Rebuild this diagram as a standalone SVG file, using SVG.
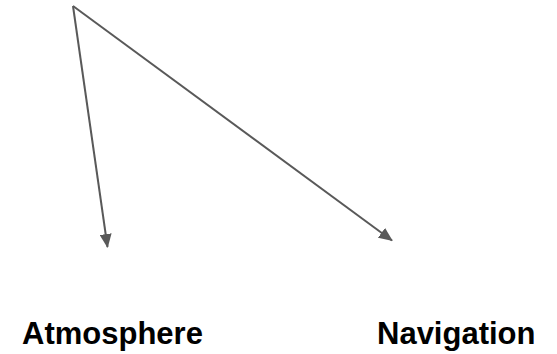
<svg xmlns="http://www.w3.org/2000/svg" width="557" height="354" viewBox="0 0 557 354">
<style>
.edge{stroke:#595959;stroke-width:2;fill:none}
.lbl{font-family:"Liberation Sans",Arial,sans-serif;font-weight:bold;font-size:31px;fill:#000}
</style>
<defs>
<marker id="ah" markerUnits="userSpaceOnUse" markerWidth="14" markerHeight="12" viewBox="0 0 14 12" refX="13" refY="6" orient="auto">
<path d="M0,0 L14,6 L0,12 Z" fill="#595959"/>
</marker>
</defs>
<rect width="557" height="354" fill="#fff"/>
<g id="connectors">
<line class="edge" x1="73" y1="6" x2="107.5" y2="247" marker-end="url(#ah)"/>
<line class="edge" x1="73" y1="6" x2="392" y2="240.5" marker-end="url(#ah)"/>
</g>
<g id="atmosphere"><text class="lbl" x="22" y="344">Atmosphere</text></g>
<g id="navigation"><text class="lbl" x="377" y="344">Navigation</text></g>
</svg>
